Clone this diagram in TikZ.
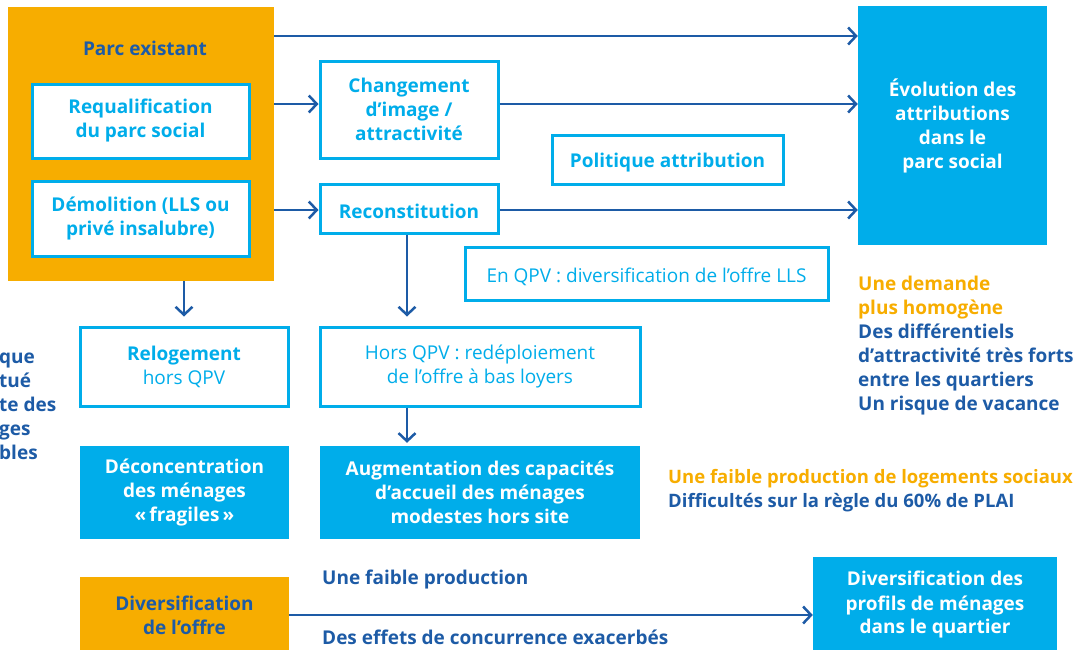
\documentclass[tikz,border=0pt]{standalone}
\usepackage{fontspec}
\setmainfont{Open Sans}
\usepackage{tikz}
\usetikzlibrary{arrows.meta}
\usetikzlibrary{positioning}
\definecolor{orangeparc}{HTML}{F7AD00}
\definecolor{cyanbox}{HTML}{00ADEA}
\definecolor{bleufonce}{HTML}{1D5BA6}

\begin{document}
\begin{tikzpicture}[x=1pt, y=-1pt,
  >={Straight Barb[length=8pt,width=17pt]},
  every node/.style={font=\fontsize{19}{24}\selectfont},
  cadre/.style={draw=cyanbox, line width=3pt, fill=white, text=cyanbox,
    align=center, inner sep=0pt, font=\fontsize{19}{24}\selectfont\bfseries,
    execute at begin node={\rule{0pt}{21pt}}},
  plein/.style={fill=cyanbox, text=white, align=center, inner sep=0pt,
    font=\fontsize{19}{24}\selectfont\bfseries,
    execute at begin node={\rule{0pt}{21pt}}},
  orangebox/.style={fill=orangeparc, text=bleufonce, align=center, inner sep=0pt,
    font=\fontsize{19}{24}\selectfont\bfseries},
  fleche/.style={->, draw=bleufonce, line width=2.5pt},
  texte/.style={inner sep=0pt, align=left, font=\fontsize{19}{24}\selectfont\bfseries}]

\useasboundingbox (0,0) rectangle (1084,649);

% Parc existant and its two actions
\node[orangebox, minimum width=266, minimum height=274] (parc) at (141,144) {};
\node[text=bleufonce, font=\fontsize{19}{24}\selectfont\bfseries] (parclbl) at (145,48) {Parc existant};
\node[cadre, minimum width=217, minimum height=74] (requal) at (140.5,121)
  {Requalification\\du parc social};
\node[cadre, minimum width=217, minimum height=75] (demol) at (140.5,218.5)
  {D\'emolition (LLS ou\\priv\'e insalubre)};

% middle column
\node[cadre, minimum width=178, minimum height=97] (chg) at (409,109.5)
  {Changement\\d'image /\\attractivit\'e};
\node[cadre, minimum width=178, minimum height=49] (recon) at (409,208.5)
  {Reconstitution};
\node[cadre, minimum width=231, minimum height=49] (polit) at (667.5,159.5)
  {Politique attribution};
\node[cadre, minimum width=363, minimum height=53, font=\fontsize{19}{24}\selectfont] (enqpv) at (646.5,273.5)
  {En QPV : diversification de l'offre LLS};

% result on the right
\node[plein, minimum width=189, minimum height=239] (evol) at (952.5,125.5)
  {\'Evolution des\\attributions\\dans le\\parc social};

% second row
\node[cadre, minimum width=208, minimum height=79] (reloge) at (184,366.5)
  {Relogement\\\mdseries hors QPV};
\node[cadre, minimum width=320, minimum height=79, font=\fontsize{19}{24}\selectfont] (horsqpv) at (480,366.5)
  {Hors QPV : red\'eploiement\\de l'offre \`a bas loyers};
\node[plein, minimum width=209, minimum height=93] (decon) at (184.5,492.5)
  {D\'econcentration\\des m\'enages\\\guillemotleft\,fragiles\,\guillemotright};
\node[plein, minimum width=320, minimum height=93] (augm) at (480,492.5)
  {Augmentation des capacit\'es\\d'accueil des m\'enages\\modestes hors site};

% bottom row
\node[orangebox, minimum width=209, minimum height=76] (divoff) at (184.5,615)
  {Diversification\\de l'offre};
\node[plein, minimum width=244, minimum height=96] (divprof) at (935,605)
  {Diversification des\\profils de m\'enages\\dans le quartier};

% free texts
\node[texte, anchor=west, text=bleufonce] (gauche) at (-1,406)
  {que\\tu\'e\\te des\\ges\\bles};
\node[texte, anchor=north west] (demande) at (858,276)
  {\textcolor{orangeparc}{Une demande}\\\textcolor{orangeparc}{plus homog\`ene}\\
   \textcolor{bleufonce}{Des diff\'erentiels}\\\textcolor{bleufonce}{d'attractivit\'e tr\`es forts}\\
   \textcolor{bleufonce}{entre les quartiers}\\\textcolor{bleufonce}{Un risque de vacance}};
\node[texte, anchor=north west, font=\fontsize{18.5}{24}\selectfont\bfseries] (production) at (668,469)
  {\textcolor{orangeparc}{Une faible production de logements sociaux}\\
   \textcolor{bleufonce}{Difficult\'es sur la r\`egle du 60\% de PLAI}};
\node[texte, anchor=west, text=bleufonce] (faible) at (322,580) {Une faible production};
\node[texte, anchor=west, text=bleufonce] (effets) at (322,637) {Des effets de concurrence exacerb\'es};

% arrow rows
\coordinate (r1) at (274,36);
\coordinate (r2) at (274,104);
\coordinate (r3) at (274,210);
\draw[fleche] (r1) -- (r1 -| evol.west);
\draw[fleche] (r2) -- (r2 -| chg.west);
\draw[fleche] (r2 -| chg.east) -- (r2 -| evol.west);
\draw[fleche] (r3) -- (r3 -| recon.west);
\draw[fleche] (r3 -| recon.east) -- (r3 -| evol.west);

% vertical arrows
\draw[fleche, shorten >=9pt] (reloge.north |- parc.south) -- (reloge.north);
\draw[fleche, shorten >=9pt] ([xshift=-2pt]recon.south) -- ([xshift=-2pt]recon.south |- horsqpv.north);
\draw[fleche, shorten >=3pt] ([xshift=-73pt]horsqpv.south) -- ([xshift=-73pt]augm.north);

% bottom arrow
\draw[fleche] (divoff.east) -- (divoff.east -| divprof.west);

\end{tikzpicture}
\end{document}
